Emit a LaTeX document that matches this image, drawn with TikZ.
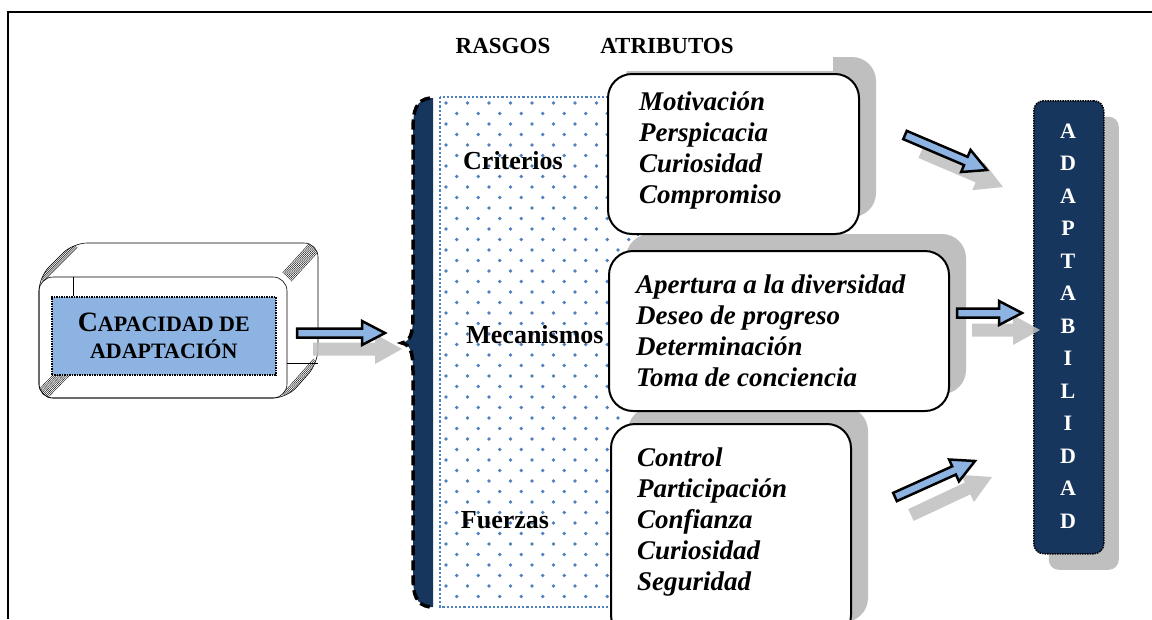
\documentclass[tikz,border=0pt]{standalone}
\usepackage{fontspec}
\setmainfont{Liberation Serif}
\usetikzlibrary{calc,shadows}
\definecolor{navy}{HTML}{17365D}
\definecolor{lblue}{HTML}{8DB3E2}
\definecolor{dotblue}{HTML}{4F81BD}
\definecolor{shadowgray}{HTML}{BFBFBF}
% name, tail, tip, shaft half width, head half width, head length, style
\newcommand{\blockarrow}[7]{%
  \coordinate (#1-hb) at ($(#3)!#6pt!(#2)$);
  \path[#7] ($(#2)!#4pt!90:(#3)$) -- ($(#1-hb)!#4pt!90:(#3)$) -- ($(#1-hb)!#5pt!90:(#3)$) -- (#3)
     -- ($(#1-hb)!#5pt!-90:(#3)$) -- ($(#1-hb)!#4pt!-90:(#3)$) -- ($(#2)!#4pt!-90:(#3)$) -- cycle;
}
\begin{document}
\begin{tikzpicture}[x=1pt,y=-1pt,
  attrbox/.style={draw=black, line width=2pt, fill=white, rounded corners=24pt, anchor=north west,
    drop shadow={shadow xshift=17pt, shadow yshift=17pt, fill=shadowgray, opacity=1}},
  attrtext/.style={font=\fontsize{27}{31}\selectfont\bfseries\itshape, align=left, inner sep=0pt, anchor=west},
  rasgo/.style={font=\fontsize{26}{30}\selectfont\bfseries, inner sep=0pt},
  hdr/.style={font=\fontsize{23}{26}\selectfont\bfseries, inner sep=0pt},
  letter/.style={text=white, font=\fontsize{22}{24}\selectfont\bfseries, inner sep=0pt},
  bluearrow/.style={fill=lblue, draw=black, line width=2.5pt, line join=miter},
  shadowarrow/.style={fill=shadowgray, opacity=0.85},
  cubeline/.style={line width=0.6pt},
]
\useasboundingbox (0,0) rectangle (1152,619);
\fill[white] (0,0) rectangle (1152,619);

% ---------- cube ----------
\path[cubeline, draw, fill=white, rounded corners=14pt]
  (39,398) -- (39,277) -- (73,243) -- (318,243) -- (318,363) -- (287,398) -- cycle;
\begin{scope}
  \clip[rounded corners=14pt] (39,398) -- (39,277) -- (73,243) -- (318,243) -- (318,363) -- (287,398) -- cycle;
  \foreach \px/\py/\qx/\qy in {39/277/73/243, 287/277/318/243, 39/398/73/363, 287/398/318/363}{
    \foreach \k in {-6,-4.5,...,6}{
      \draw[line width=0.4pt] (\px+0.707*\k, \py+0.707*\k) -- (\qx+0.707*\k, \qy+0.707*\k);
    }
  }
\end{scope}
\draw[cubeline, rounded corners=14pt] (39,277) rectangle (287,398);
\draw[cubeline] (73,277) -- (73,296);
\draw[cubeline] (287,363) -- (318,363);
\node[draw=black, densely dotted, line width=1.5pt, fill=lblue, minimum width=224pt, minimum height=78pt,
      anchor=north west, inner sep=0pt] (capbox) at (51,296) {};
\node[font=\fontsize{22}{27}\selectfont\bfseries, align=center, inner sep=0pt] (captext) at (capbox.center)
  {{\fontsize{28}{27}\selectfont C}APACIDAD DE\\ADAPTACIÓN};

% ---------- brace ----------
\fill[navy] (430,98) .. controls (416,100) and (413,110) .. (413,130) -- (413,315)
  .. controls (413,335) and (410,341) .. (402,343) .. controls (410,345) and (413,351) .. (413,371)
  -- (413,575) .. controls (413,595) and (416,605) .. (430,607) -- (433,607) -- (433,98) -- cycle;
\draw[black, line width=3.5pt, dash pattern=on 10pt off 5pt] (430,98) .. controls (416,100) and (413,110) .. (413,130) -- (413,315)
  .. controls (413,335) and (410,341) .. (402,343) .. controls (410,345) and (413,351) .. (413,371)
  -- (413,575) .. controls (413,595) and (416,605) .. (430,607);
\coordinate (bracetip) at (402,343);

% ---------- dotted region ----------
\begin{scope}
  \clip (442,99) rectangle (636,605);
  \foreach \r in {0,...,47}{
    \pgfmathsetmacro{\yy}{103+\r*10.5}
    \pgfmathsetmacro{\off}{mod(\r,2)*10.75}
    \foreach \c in {0,...,9}{
      \fill[dotblue] (446+\off+\c*21.5, \yy) circle (1.8pt);
    }
  }
\end{scope}
\draw[dotblue, line width=2.2pt, dash pattern=on 2.2pt off 2pt] (440,97) rectangle (638,607);
\node[rasgo] (criterios) at (513,161) {Criterios};
\node[rasgo] (mecanismos) at (535,335) {Mecanismos};
\node[rasgo] (fuerzas) at (505,520) {Fuerzas};

% ---------- attribute boxes ----------
\node[attrbox, minimum width=240pt, minimum height=215pt] (box3) at (610,423) {};
\node[attrtext] (t3) at (637,522) {Control\\Participación\\Confianza\\Curiosidad\\Seguridad};
\node[attrbox, minimum width=340pt, minimum height=160pt] (box2) at (608,250) {};
\node[attrtext] (t2) at (636,331) {Apertura a la diversidad\\Deseo de progreso\\Determinación\\Toma de conciencia};
\node[attrbox, minimum width=251pt, minimum height=160pt] (box1) at (607,73) {};
\node[attrtext] (t1) at (639,150) {Motivación\\Perspicacia\\Curiosidad\\Compromiso};

% ---------- header ----------
\fill[white] (440,20) rectangle (833,71);
\node[hdr] (rasgos) at (503,46) {RASGOS};
\node[hdr] (atributos) at (667,46) {ATRIBUTOS};

% ---------- ADAPTABILIDAD ----------
\node[draw=black, densely dotted, line width=1.5pt, fill=navy, rounded corners=10pt,
      minimum width=70pt, minimum height=453pt, anchor=north west, inner sep=0pt,
      drop shadow={shadow xshift=15pt, shadow yshift=-16pt, fill=shadowgray, opacity=1}] (adapt) at (1033,100) {};
\foreach \L [count=\i from 0] in {A,D,A,P,T,A,B,I,L,I,D,A,D}{
  \node[letter] (let\i) at (1068,131+32.5*\i) {\L};
}

% ---------- arrows ----------
\coordinate (c-t) at (297,333);  \coordinate (c-h) at (385,333);
\coordinate (cs-t) at (313,349); \coordinate (cs-h) at (402,349);
\coordinate (a1-t) at (905,135); \coordinate (a1-h) at (987,170);
\coordinate (a1s-t) at (921,152); \coordinate (a1s-h) at (1003,187);
\coordinate (a2-t) at (957,313); \coordinate (a2-h) at (1022,313);
\coordinate (a2s-t) at (972,330); \coordinate (a2s-h) at (1040,330);
\coordinate (a3-t) at (895,497); \coordinate (a3-h) at (975,461);
\coordinate (a3s-t) at (911,515); \coordinate (a3s-h) at (992,477);

\blockarrow{cs}{cs-t}{cs-h}{6.5}{15}{27}{shadowarrow}
\blockarrow{a1s}{a1s-t}{a1s-h}{6.5}{15}{27}{shadowarrow}
\blockarrow{a2s}{a2s-t}{a2s-h}{6.5}{15}{27}{shadowarrow}
\blockarrow{a3s}{a3s-t}{a3s-h}{6.5}{15}{27}{shadowarrow}

\blockarrow{c}{c-t}{c-h}{4.5}{12}{23}{bluearrow}
\blockarrow{a1}{a1-t}{a1-h}{4.5}{12}{23}{bluearrow}
\blockarrow{a2}{a2-t}{a2-h}{4.5}{12}{23}{bluearrow}
\blockarrow{a3}{a3-t}{a3-h}{4.5}{12}{23}{bluearrow}

% ---------- frame ----------
\draw[line width=2pt] (7.5,619) -- (7.5,12) -- (1152,12);
\end{tikzpicture}
\end{document}
